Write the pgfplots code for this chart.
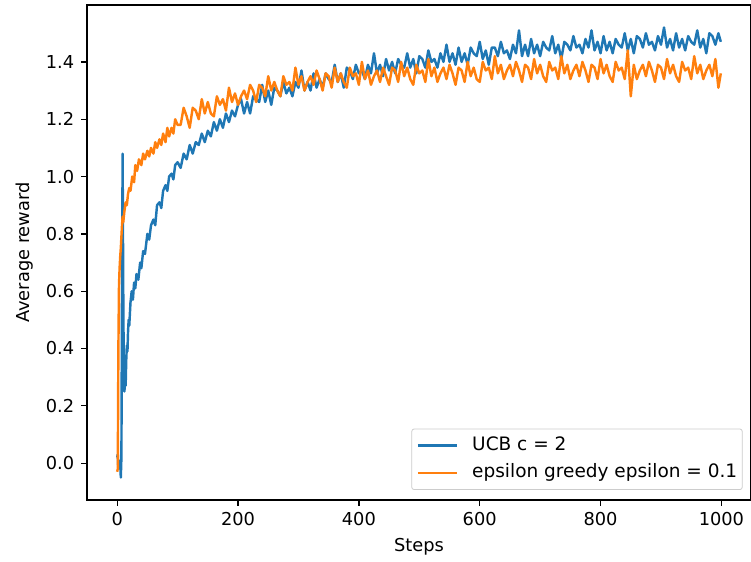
\documentclass[border=0pt]{standalone}
\usepackage{fontspec}
\setmainfont{DejaVu Sans}
\usepackage{pgfplots}
\pgfplotsset{compat=1.18}
\definecolor{tabblue}{HTML}{1F77B4}
\definecolor{taborange}{HTML}{FF7F0E}
\newcommand{\chartfont}{\fontsize{8.9}{10.6}\selectfont}
\newcommand{\legfont}{\fontsize{9.25}{11}\selectfont}
\begin{document}
\begin{tikzpicture}
\begin{axis}[
  name=ax,
  width=332pt, height=247.5pt, scale only axis,
  xmin=-49.95, xmax=1048.95, ymin=-0.1285, ymax=1.5985,
  xtick={0,200,400,600,800,1000},
  ytick={0,0.2,0.4,0.6,0.8,1.0,1.2,1.4},
  /pgf/number format/assume math mode=true,
  /pgf/number format/1000 sep={},
  yticklabel style={/pgf/number format/.cd, fixed, fixed zerofill, precision=1},
  tick label style={font=\chartfont},
  tick align=outside, tick pos=left,
  major tick length=2.85pt,
  tick style={black, line width=0.65pt},
  axis line style={line width=0.65pt},
  xlabel={Steps}, ylabel={Average reward},
  label style={font=\chartfont},
  xlabel style={at={(axis description cs:0.5,-0.0949)}, anchor=center},
  ylabel style={at={(axis description cs:-0.0934,0.5)}, anchor=center},
  legend style={at={(0.9874,0.0202)}, anchor=south east, draw=black!20, rounded corners=1.2pt,
    fill=white, fill opacity=0.8, text opacity=1, font=\legfont,
    inner xsep=2.5pt, inner ysep=3.8pt, row sep=4.7pt,
    nodes={inner sep=0pt, text height=7pt, text depth=2pt},
    /tikz/every odd column/.append style={column sep=7pt}},
  legend cell align=left,
  legend image code/.code={\draw[#1] (0pt,0pt) -- (19.5pt,0pt);},
  every axis plot/.append style={line width=1.22pt, line join=round},
]
\addplot[tabblue] coordinates {
(0,0.02)(1,0.03)(2,-0.02)(3,0.01)(4,-0.01)(5,0.00)(6,-0.05)(7,0.02)(8,0.60)(9,1.08)(10,0.62)
(11,0.30)(12,0.25)(13,0.29)(14,0.27)(15,0.36)(16,0.41)(17,0.39)(18,0.46)(19,0.50)(20,0.48)
(22,0.56)(24,0.60)(26,0.57)(28,0.63)(30,0.61)(32,0.66)(35,0.64)(38,0.70)(40,0.68)(43,0.74)
(46,0.73)(50,0.80)(53,0.78)(56,0.83)(60,0.85)(63,0.83)(66,0.90)(70,0.91)(73,0.89)(76,0.95)
(80,0.97)(83,0.95)(86,1.00)(90,1.01)(93,0.99)(96,1.04)(100,1.05)(105,1.03)(110,1.08)(115,1.06)
(120,1.11)(125,1.08)(130,1.12)(135,1.11)(140,1.15)(145,1.12)(150,1.16)(155,1.14)(160,1.19)(165,1.16)
(170,1.20)(175,1.17)(180,1.22)(185,1.19)(190,1.23)(195,1.21)(200,1.25)
(205,1.27)(210,1.22)(215,1.26)(220,1.22)(225,1.28)(230,1.27)(235,1.26)(240,1.32)(245,1.26)(250,1.30)
(255,1.25)(260,1.31)(265,1.30)(270,1.28)(275,1.33)(280,1.29)(285,1.31)(290,1.28)(295,1.33)(300,1.31)
(305,1.37)(310,1.30)(315,1.33)(320,1.30)(325,1.36)(330,1.31)(335,1.34)(340,1.31)(345,1.36)(350,1.34)
(355,1.33)(360,1.39)(365,1.33)(370,1.36)(375,1.31)(380,1.38)(385,1.37)(390,1.34)(395,1.39)(400,1.36)
(405,1.37)(410,1.34)(415,1.39)(420,1.36)(425,1.43)(430,1.36)(435,1.39)(440,1.35)(445,1.41)(450,1.37)
(455,1.40)(460,1.36)(465,1.41)(470,1.39)(475,1.38)(480,1.43)(485,1.38)(490,1.41)(495,1.36)(500,1.42)
(505,1.41)(510,1.38)(515,1.44)(520,1.40)(525,1.41)(530,1.38)(535,1.43)(540,1.40)(545,1.46)(550,1.40)
(555,1.43)(560,1.39)(565,1.45)(570,1.40)(575,1.43)(580,1.39)(585,1.45)(590,1.43)(595,1.42)(600,1.47)
(605,1.41)(610,1.44)(615,1.39)(620,1.45)(625,1.45)(630,1.42)(635,1.47)(640,1.43)(645,1.44)(650,1.41)
(655,1.46)(660,1.43)(665,1.51)(670,1.42)(675,1.46)(680,1.42)(685,1.48)(690,1.43)(695,1.46)(700,1.42)
(705,1.47)(710,1.45)(715,1.44)(720,1.49)(725,1.43)(730,1.46)(735,1.41)(740,1.47)(745,1.46)(750,1.44)
(755,1.49)(760,1.45)(765,1.46)(770,1.43)(775,1.48)(780,1.45)(785,1.51)(790,1.44)(795,1.47)(800,1.43)
(805,1.49)(810,1.44)(815,1.47)(820,1.43)(825,1.48)(830,1.46)(835,1.45)(840,1.50)(845,1.44)(850,1.48)
(855,1.43)(860,1.49)(865,1.48)(870,1.45)(875,1.50)(880,1.46)(885,1.47)(890,1.44)(895,1.49)(900,1.46)
(905,1.52)(910,1.45)(915,1.48)(920,1.44)(925,1.50)(930,1.45)(935,1.48)(940,1.44)(945,1.49)(950,1.47)
(955,1.46)(960,1.51)(965,1.45)(970,1.48)(975,1.43)(980,1.50)(985,1.49)(990,1.46)(995,1.50)(999,1.47)
};
\addlegendentry{UCB c = 2}
\addplot[taborange] coordinates {
(0,-0.03)(1,-0.02)(2,0.40)(3,0.62)(4,0.68)(5,0.72)(6,0.75)(7,0.79)(8,0.83)(9,0.86)(10,0.84)
(12,0.88)(14,0.91)(16,0.90)(18,0.94)(20,0.96)(22,0.95)(25,1.00)(28,0.98)(30,1.04)(33,1.02)
(36,1.06)(40,1.04)(43,1.08)(46,1.06)(50,1.09)(53,1.07)(56,1.10)(60,1.08)(63,1.12)(66,1.10)
(70,1.13)(73,1.11)(76,1.15)(80,1.12)(83,1.17)(86,1.14)(90,1.17)(93,1.15)(96,1.20)(100,1.18)
(105,1.18)(110,1.24)(115,1.21)(120,1.17)(125,1.24)(130,1.23)(135,1.20)(140,1.27)(145,1.22)(150,1.26)
(155,1.22)(160,1.21)(165,1.28)(170,1.25)(175,1.27)(180,1.23)(185,1.31)(190,1.26)(195,1.29)(200,1.25)
(205,1.28)(210,1.30)(215,1.27)(220,1.32)(225,1.30)(230,1.26)(235,1.32)(240,1.31)(245,1.28)(250,1.35)
(255,1.30)(260,1.33)(265,1.30)(270,1.28)(275,1.35)(280,1.32)(285,1.33)(290,1.30)(295,1.38)(300,1.32)
(305,1.35)(310,1.30)(315,1.33)(320,1.35)(325,1.32)(330,1.37)(335,1.34)(340,1.30)(345,1.36)(350,1.35)
(355,1.31)(360,1.38)(365,1.33)(370,1.36)(375,1.33)(380,1.31)(385,1.38)(390,1.35)(395,1.36)(400,1.32)
(405,1.40)(410,1.34)(415,1.37)(420,1.32)(425,1.35)(430,1.37)(435,1.33)(440,1.38)(445,1.35)(450,1.32)
(455,1.38)(460,1.37)(465,1.33)(470,1.40)(475,1.35)(480,1.38)(485,1.34)(490,1.32)(495,1.39)(500,1.36)
(505,1.37)(510,1.33)(515,1.41)(520,1.35)(525,1.38)(530,1.33)(535,1.36)(540,1.38)(545,1.34)(550,1.39)
(555,1.36)(560,1.32)(565,1.38)(570,1.37)(575,1.33)(580,1.40)(585,1.35)(590,1.38)(595,1.34)(600,1.33)
(605,1.40)(610,1.37)(615,1.38)(620,1.34)(625,1.42)(630,1.36)(635,1.39)(640,1.34)(645,1.37)(650,1.39)
(655,1.35)(660,1.40)(665,1.37)(670,1.33)(675,1.39)(680,1.38)(685,1.34)(690,1.41)(695,1.36)(700,1.39)
(705,1.35)(710,1.33)(715,1.40)(720,1.37)(725,1.38)(730,1.34)(735,1.42)(740,1.36)(745,1.39)(750,1.34)
(755,1.37)(760,1.39)(765,1.35)(770,1.40)(775,1.37)(780,1.33)(785,1.39)(790,1.38)(795,1.34)(800,1.41)
(805,1.36)(810,1.39)(815,1.35)(820,1.33)(825,1.40)(830,1.37)(835,1.38)(840,1.34)(845,1.44)(850,1.28)
(855,1.39)(860,1.34)(865,1.37)(870,1.39)(875,1.35)(880,1.40)(885,1.37)(890,1.33)(895,1.39)(900,1.38)
(905,1.34)(910,1.41)(915,1.36)(920,1.39)(925,1.35)(930,1.33)(935,1.40)(940,1.37)(945,1.38)(950,1.34)
(955,1.42)(960,1.36)(965,1.39)(970,1.34)(975,1.37)(980,1.39)(985,1.35)(990,1.41)(995,1.31)(999,1.36)
};
\addlegendentry{epsilon greedy epsilon = 0.1}
\end{axis}
\pgfresetboundingbox
\path ([shift={(-43.5pt,-31pt)}]ax.south west) rectangle ([shift={(0pt,2.5pt)}]ax.north east);
\end{tikzpicture}
\end{document}
